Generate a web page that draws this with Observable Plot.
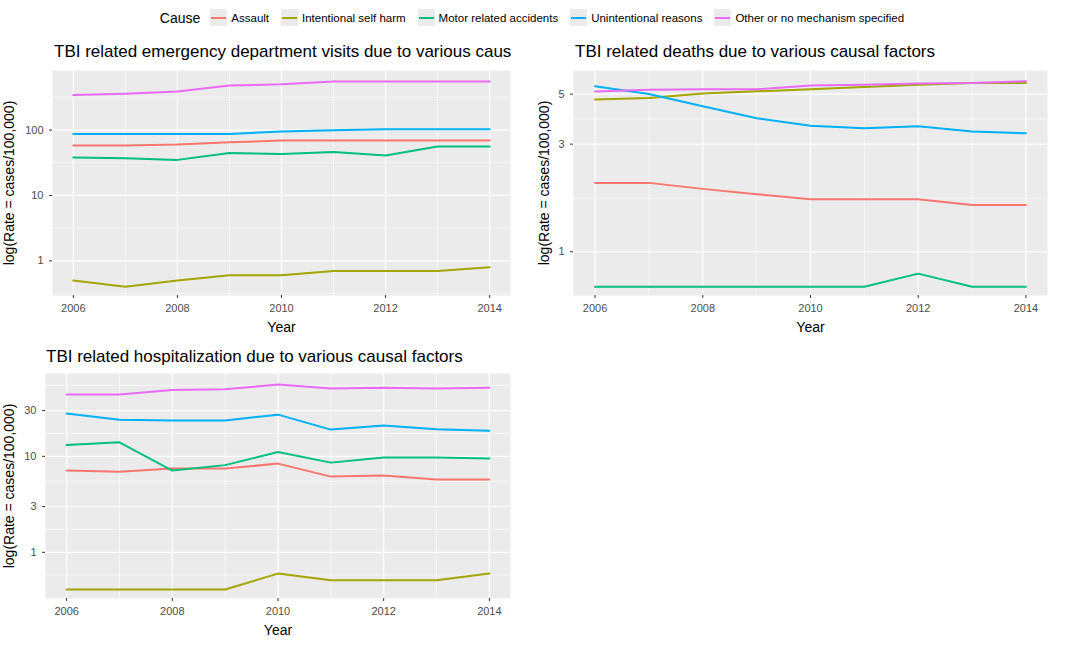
<!DOCTYPE html>
<html><head><meta charset="utf-8">
<script src="https://cdn.jsdelivr.net/npm/d3@7"></script>
<script src="https://cdn.jsdelivr.net/npm/@observablehq/plot@0.6"></script>
<style>
body{margin:0;background:#fff;font-family:Arial,"Liberation Sans",sans-serif;}
#wrap{position:relative;width:1070px;height:646px;overflow:hidden}
.title{position:absolute;font-size:17px;color:#000;white-space:nowrap}
.panel{position:absolute}
#legend{position:absolute;top:9px;left:0;width:1070px;display:flex;justify-content:center;align-items:center;font-size:11.5px}
.key{display:inline-block;width:17px;height:17px;background:#EBEBEB;position:relative;margin:0 4px 0 6px}
.key i{position:absolute;left:1px;right:1px;top:8px;height:2px}
</style></head>
<body><div id="wrap">
<div id="legend"></div>
<div class="title" style="left:54px;top:42px">TBI related emergency department visits due to various caus</div>
<div class="title" style="left:575px;top:42px">TBI related deaths due to various causal factors</div>
<div class="title" style="left:46px;top:347px">TBI related hospitalization due to various causal factors</div>
<div class="panel" id="p1" style="left:0;top:60px"></div>
<div class="panel" id="p2" style="left:535px;top:60px"></div>
<div class="panel" id="p3" style="left:0;top:363px"></div>
</div>
<script>
const years = [2006, 2007, 2008, 2009, 2010, 2011, 2012, 2013, 2014];
const causes = ["Assault", "Intentional self harm", "Motor related accidents", "Unintentional reasons", "Other or no mechanism specified"];
const colors = ["#F8766D", "#A3A500", "#00BF7D", "#00B0F6", "#E76BF3"];

// emergency department visits
const edAssault = [58, 58, 60, 65, 69, 69, 69, 69, 69];
const edSelfHarm = [0.5, 0.4, 0.5, 0.6, 0.6, 0.7, 0.7, 0.7, 0.8];
const edMotor = [38, 37, 35, 44.5, 43, 46, 41, 56, 56];
const edUnint = [87, 87, 87, 87, 95, 99, 103, 103, 103];
const edOther = [344, 360, 390, 480, 500, 555, 555, 555, 555];

// deaths
const dAssault = [2.02, 2.02, 1.9, 1.8, 1.71, 1.71, 1.71, 1.61, 1.61];
const dSelfHarm = [4.73, 4.8, 5.03, 5.14, 5.25, 5.37, 5.5, 5.6, 5.6];
const dMotor = [0.7, 0.7, 0.7, 0.7, 0.7, 0.7, 0.8, 0.7, 0.7];
const dUnint = [5.42, 5.0, 4.42, 3.91, 3.62, 3.53, 3.6, 3.41, 3.35];
const dOther = [5.13, 5.22, 5.25, 5.25, 5.46, 5.5, 5.57, 5.6, 5.7];

// hospitalization
const hAssault = [7.1, 6.9, 7.45, 7.45, 8.4, 6.15, 6.3, 5.72, 5.72];
const hSelfHarm = [0.41, 0.41, 0.41, 0.41, 0.6, 0.51, 0.51, 0.51, 0.6];
const hMotor = [13.1, 14.0, 7.1, 8.1, 11.1, 8.6, 9.7, 9.7, 9.5];
const hUnint = [27.9, 24.1, 23.7, 23.7, 27.2, 19.0, 20.9, 19.2, 18.5];
const hOther = [44, 44, 49, 50, 56, 51, 52, 51, 52];

const xTicks = [2006, 2008, 2010, 2012, 2014];
const xMinor = [2007, 2009, 2011, 2013];

function rows(series) {
  const out = [];
  series.forEach((vals, i) => vals.forEach((v, j) => out.push({year: years[j], rate: v, cause: causes[i]})));
  return out;
}

function panel(el, series, opt) {
  const chart = Plot.plot({
    width: opt.width, height: opt.height,
    marginLeft: opt.ml, marginRight: opt.mr, marginTop: 10, marginBottom: 45,
    style: {background: "transparent", fontSize: "11px", fontFamily: "Arial, Liberation Sans, sans-serif"},
    x: {domain: [2005.6, 2014.4]},
    y: {type: "log", domain: opt.domain},
    color: {domain: causes, range: colors},
    marks: [
      Plot.frame({fill: "#EBEBEB", stroke: null}),
      Plot.ruleY(opt.minor, {stroke: "#fff", strokeWidth: 0.6}),
      Plot.ruleX(xMinor, {stroke: "#fff", strokeWidth: 0.6}),
      Plot.ruleY(opt.ticks, {stroke: "#fff", strokeWidth: 1.2}),
      Plot.ruleX(xTicks, {stroke: "#fff", strokeWidth: 1.2}),
      Plot.axisX({ticks: xTicks, tickFormat: d => String(d), tickSize: 3, stroke: "#333", color: "#4D4D4D",
        fontSize: 11, label: null}),
      Plot.axisX({ticks: [], label: "Year", labelAnchor: "center", labelArrow: "none", labelOffset: 36, fontSize: 14, color: "#000"}),
      Plot.axisY({ticks: opt.ticks, tickFormat: d => String(d), tickSize: 3, stroke: "#333", color: "#4D4D4D",
        fontSize: 11, label: null}),
      Plot.axisY({ticks: [], label: "log(Rate = cases/100,000)", labelAnchor: "center", labelArrow: "none",
        labelOffset: opt.ml - 4, fontSize: 14, color: "#000"}),
      Plot.line(rows(series), {x: "year", y: "rate", stroke: "cause", z: "cause", strokeWidth: 2})
    ]
  });
  document.getElementById(el).append(chart);
}

panel("p1", [edAssault, edSelfHarm, edMotor, edUnint, edOther], {
  width: 535, height: 280, ml: 52, mr: 25, domain: [0.295, 815],
  ticks: [1, 10, 100], minor: [0.316, 3.16, 31.6, 316]
});
panel("p2", [dAssault, dSelfHarm, dMotor, dUnint, dOther], {
  width: 535, height: 280, ml: 38, mr: 23, domain: [0.64, 6.36],
  ticks: [1, 3, 5], minor: [1.73, 3.87]
});
panel("p3", [hAssault, hSelfHarm, hMotor, hUnint, hOther], {
  width: 535, height: 280, ml: 45, mr: 25, domain: [0.33, 73],
  ticks: [1, 3, 10, 30], minor: [0.577, 1.73, 5.48, 17.3, 54.8]
});

const lg = document.getElementById("legend");
lg.innerHTML = `<span style="font-size:14px;margin-right:4px">Cause</span>` +
  causes.map((c, i) => `<span class="key"><i style="background:${colors[i]}"></i></span><span style="margin-right:6px">${c}</span>`).join("");
</script>
</body></html>
